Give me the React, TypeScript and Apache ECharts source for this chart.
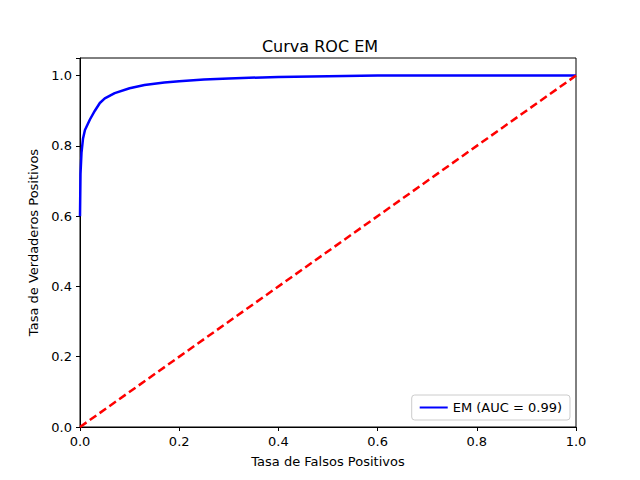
import React, { useEffect, useRef } from "react";
import * as echarts from "echarts";

const fpr = [0, 0.001, 0.003, 0.006, 0.01, 0.015, 0.02, 0.03, 0.04, 0.05, 0.07, 0.1, 0.13, 0.17, 0.2, 0.25, 0.3, 0.4, 0.5, 0.6, 1.0];
const tpr = [0.6, 0.72, 0.78, 0.82, 0.845, 0.86, 0.875, 0.9, 0.922, 0.935, 0.95, 0.964, 0.973, 0.98, 0.984, 0.989, 0.992, 0.996, 0.998, 1.0, 1.0];
const diagX = [0, 1];
const diagY = [0, 1];
const ticks = [0, 0.2, 0.4, 0.6, 0.8, 1.0];

export default function App() {
  const ref = useRef<HTMLDivElement>(null);
  useEffect(() => {
    document.body.style.margin = "0";
    const chart = echarts.init(ref.current!, null, { renderer: "svg" });
    const font = "DejaVu Sans";
    const axisCommon = {
      min: 0,
      interval: 0.2,
      nameLocation: "middle" as const,
      nameTextStyle: { fontFamily: font, fontSize: 13, color: "#000" },
      axisLine: { show: true, lineStyle: { color: "#000", width: 1 } },
      axisTick: { show: true, inside: false, length: 4, lineStyle: { color: "#000" } },
      axisLabel: { fontFamily: font, fontSize: 13, color: "#000", formatter: (v: number) => ticks.includes(Math.round(v * 10) / 10) ? v.toFixed(1) : "" },
      splitLine: { show: false },
    };
    chart.setOption({
      animation: false,
      backgroundColor: "#fff",
      title: { text: "Curva ROC EM", left: "center", top: 33, textStyle: { fontFamily: font, fontSize: 16, fontWeight: "normal", color: "#000" } },
      grid: { left: 80, right: 64, top: 58, bottom: 53, show: true, borderColor: "#000", borderWidth: 1 },
      xAxis: { ...axisCommon, type: "value", max: 1, name: "Tasa de Falsos Positivos", nameGap: 28 },
      yAxis: { ...axisCommon, type: "value", max: 1.05, name: "Tasa de Verdaderos Positivos", nameGap: 38 },
      legend: {
        right: 70, bottom: 60, orient: "vertical",
        backgroundColor: "#fff", borderColor: "#ccc", borderWidth: 1, borderRadius: 3,
        padding: [6, 8], itemWidth: 28, itemHeight: 2,
        textStyle: { fontFamily: font, fontSize: 13, color: "#000" },
        data: [{ name: "EM (AUC = 0.99)", icon: "rect" }],
      },
      series: [
        { name: "EM (AUC = 0.99)", type: "line", showSymbol: false, data: fpr.map((x, i) => [x, tpr[i]]), lineStyle: { color: "#0000ff", width: 2.5 }, itemStyle: { color: "#0000ff" } },
        { name: "diag", type: "line", showSymbol: false, data: diagX.map((x, i) => [x, diagY[i]]), lineStyle: { color: "#ff0000", width: 2.5, type: [8, 4] }, itemStyle: { color: "#ff0000" } },
      ],
    });
    return () => chart.dispose();
  }, []);
  return <div ref={ref} style={{ width: 640, height: 480 }} />;
}
